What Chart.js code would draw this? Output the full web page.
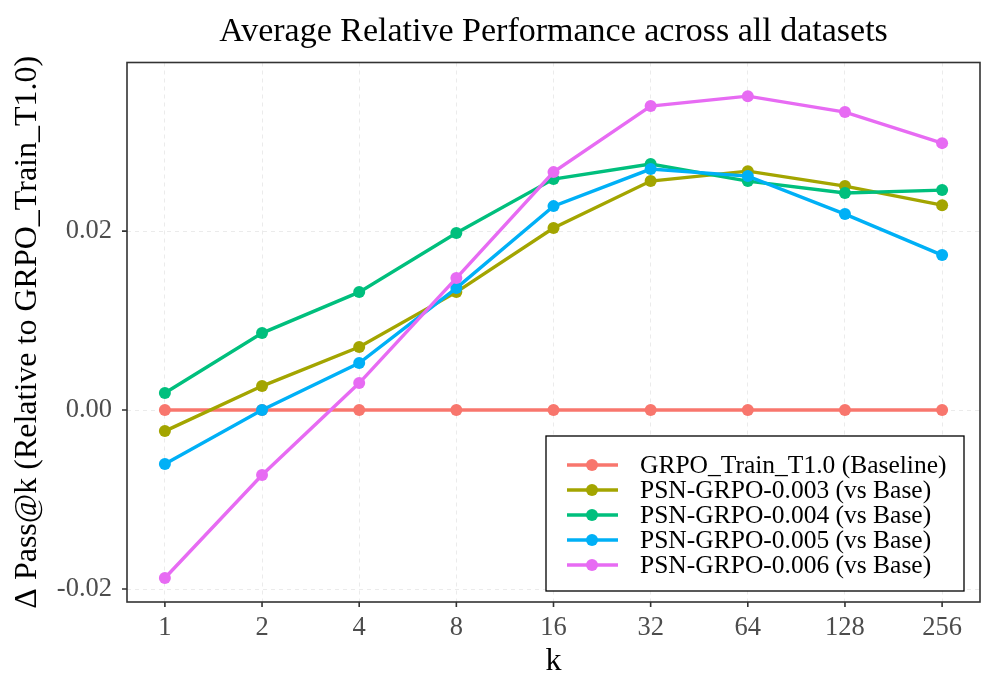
<!DOCTYPE html>
<html>
<head>
<meta charset="utf-8">
<script src="https://cdn.jsdelivr.net/npm/chart.js@4.4.1/dist/chart.umd.min.js"></script>
<style>
  html, body { margin: 0; padding: 0; background: #fff; }
  #wrap { width: 996px; height: 698px; }
</style>
</head>
<body>
<div id="wrap"><canvas id="c" width="996" height="698"></canvas></div>
<script>
  // data
  const kLabels = ["1", "2", "4", "8", "16", "32", "64", "128", "256"];
  const yTicks = [-0.02, 0.0, 0.02];

  const baseline = [0, 0, 0, 0, 0, 0, 0, 0, 0];
  const psn003 = [-0.00235, 0.00268, 0.00704, 0.01318, 0.02034, 0.02559, 0.0267, 0.02503, 0.0229];
  const psn004 = [0.0019, 0.0086, 0.01318, 0.01978, 0.02581, 0.02749, 0.02559, 0.02425, 0.02458];
  const psn005 = [-0.00603, 0.0, 0.00525, 0.01363, 0.02279, 0.02693, 0.02615, 0.0219, 0.01732];
  const psn006 = [-0.01877, -0.00726, 0.00302, 0.01475, 0.02659, 0.03397, 0.03508, 0.0333, 0.02983];

  const seriesNames = [
    "GRPO_Train_T1.0 (Baseline)",
    "PSN-GRPO-0.003 (vs Base)",
    "PSN-GRPO-0.004 (vs Base)",
    "PSN-GRPO-0.005 (vs Base)",
    "PSN-GRPO-0.006 (vs Base)",
  ];
  const seriesValues = [baseline, psn003, psn004, psn005, psn006];
  const seriesColors = ["#F8766D", "#A3A500", "#00BF7D", "#00B0F6", "#E76BF3"];

  const chartTitle = "Average Relative Performance across all datasets";
  const SERIF = "'Liberation Serif', 'DejaVu Serif', serif";

  const datasets = seriesValues.map((vals, i) => ({
    label: seriesNames[i],
    data: vals.map((v, j) => ({ x: j, y: v })),
    borderColor: seriesColors[i],
    backgroundColor: seriesColors[i],
    borderWidth: 3.4,
    pointRadius: 6,
    pointHoverRadius: 6,
    pointBorderWidth: 0,
    tension: 0,
    order: seriesValues.length - 1 - i,
  }));

  // title over the panel, panel border, tick marks and the boxed legend
  const decor = {
    id: "decor",
    afterDraw(chart) {
      const ctx = chart.ctx;
      const a = chart.chartArea;
      const xs = chart.scales.x;
      const ys = chart.scales.y;
      ctx.save();

      ctx.fillStyle = "#000000";
      ctx.font = "34px " + SERIF;
      ctx.textAlign = "center";
      ctx.textBaseline = "alphabetic";
      ctx.fillText(chartTitle, (a.left + a.right) / 2, 40.5);

      ctx.strokeStyle = "#333333";
      ctx.lineWidth = 1.6;
      ctx.strokeRect(a.left, a.top, a.right - a.left, a.bottom - a.top);
      ctx.beginPath();
      kLabels.forEach((_, j) => {
        const px = xs.getPixelForValue(j);
        ctx.moveTo(px, a.bottom);
        ctx.lineTo(px, a.bottom + 5);
      });
      yTicks.forEach((v) => {
        const py = ys.getPixelForValue(v);
        ctx.moveTo(a.left, py);
        ctx.lineTo(a.left - 5, py);
      });
      ctx.stroke();

      // legend
      const bx = 546, by = 436, bw = 418, bh = 155;
      ctx.fillStyle = "#ffffff";
      ctx.fillRect(bx, by, bw, bh);
      ctx.strokeStyle = "#000000";
      ctx.lineWidth = 1.3;
      ctx.strokeRect(bx, by, bw, bh);
      ctx.font = "25.5px " + SERIF;
      ctx.textAlign = "left";
      ctx.textBaseline = "middle";
      seriesNames.forEach((name, i) => {
        const cy = 465 + i * 25;
        ctx.strokeStyle = seriesColors[i];
        ctx.lineWidth = 3.4;
        ctx.beginPath();
        ctx.moveTo(567, cy);
        ctx.lineTo(618, cy);
        ctx.stroke();
        ctx.fillStyle = seriesColors[i];
        ctx.beginPath();
        ctx.arc(592, cy, 6, 0, Math.PI * 2);
        ctx.fill();
        ctx.fillStyle = "#000000";
        ctx.fillText(name, 640, cy + 1);
      });
      ctx.restore();
    },
  };

  new Chart(document.getElementById("c").getContext("2d"), {
    type: "line",
    data: { datasets },
    options: {
      responsive: false,
      animation: false,
      layout: { padding: { top: 62.5, right: 16, bottom: 0, left: 0 } },
      plugins: {
        legend: { display: false },
        tooltip: { enabled: false },
        title: { display: false },
      },
      scales: {
        x: {
          type: "linear",
          min: -0.39,
          max: 8.39,
          afterBuildTicks: (s) => { s.ticks = kLabels.map((_, j) => ({ value: j })); },
          afterFit: (s) => { s.height = 96; },
          ticks: {
            callback: (v) => kLabels[v],
            color: "#4D4D4D",
            font: { family: SERIF, size: 26.5 },
            padding: 10,
            maxRotation: 0,
            autoSkip: false,
          },
          grid: { color: "#EBEBEB", lineWidth: 1, drawTicks: false },
          border: { display: false, dash: [4, 4] },
          title: {
            display: true,
            text: "k",
            color: "#000000",
            font: { family: SERIF, size: 32 },
            padding: 17,
          },
        },
        y: {
          min: -0.02145,
          max: 0.03884,
          afterBuildTicks: (s) => { s.ticks = yTicks.map((v) => ({ value: v })); },
          afterFit: (s) => { s.width = 127; },
          ticks: {
            callback: (v) => v.toFixed(2),
            color: "#4D4D4D",
            font: { family: SERIF, size: 26.5 },
            padding: 15,
          },
          grid: { color: "#EBEBEB", lineWidth: 1, drawTicks: false },
          border: { display: false, dash: [4, 4] },
          title: {
            display: true,
            text: "Δ Pass@k (Relative to GRPO_Train_T1.0)",
            color: "#000000",
            font: { family: SERIF, size: 32 },
            padding: 8,
          },
        },
      },
    },
    plugins: [decor],
  });
</script>
</body>
</html>
